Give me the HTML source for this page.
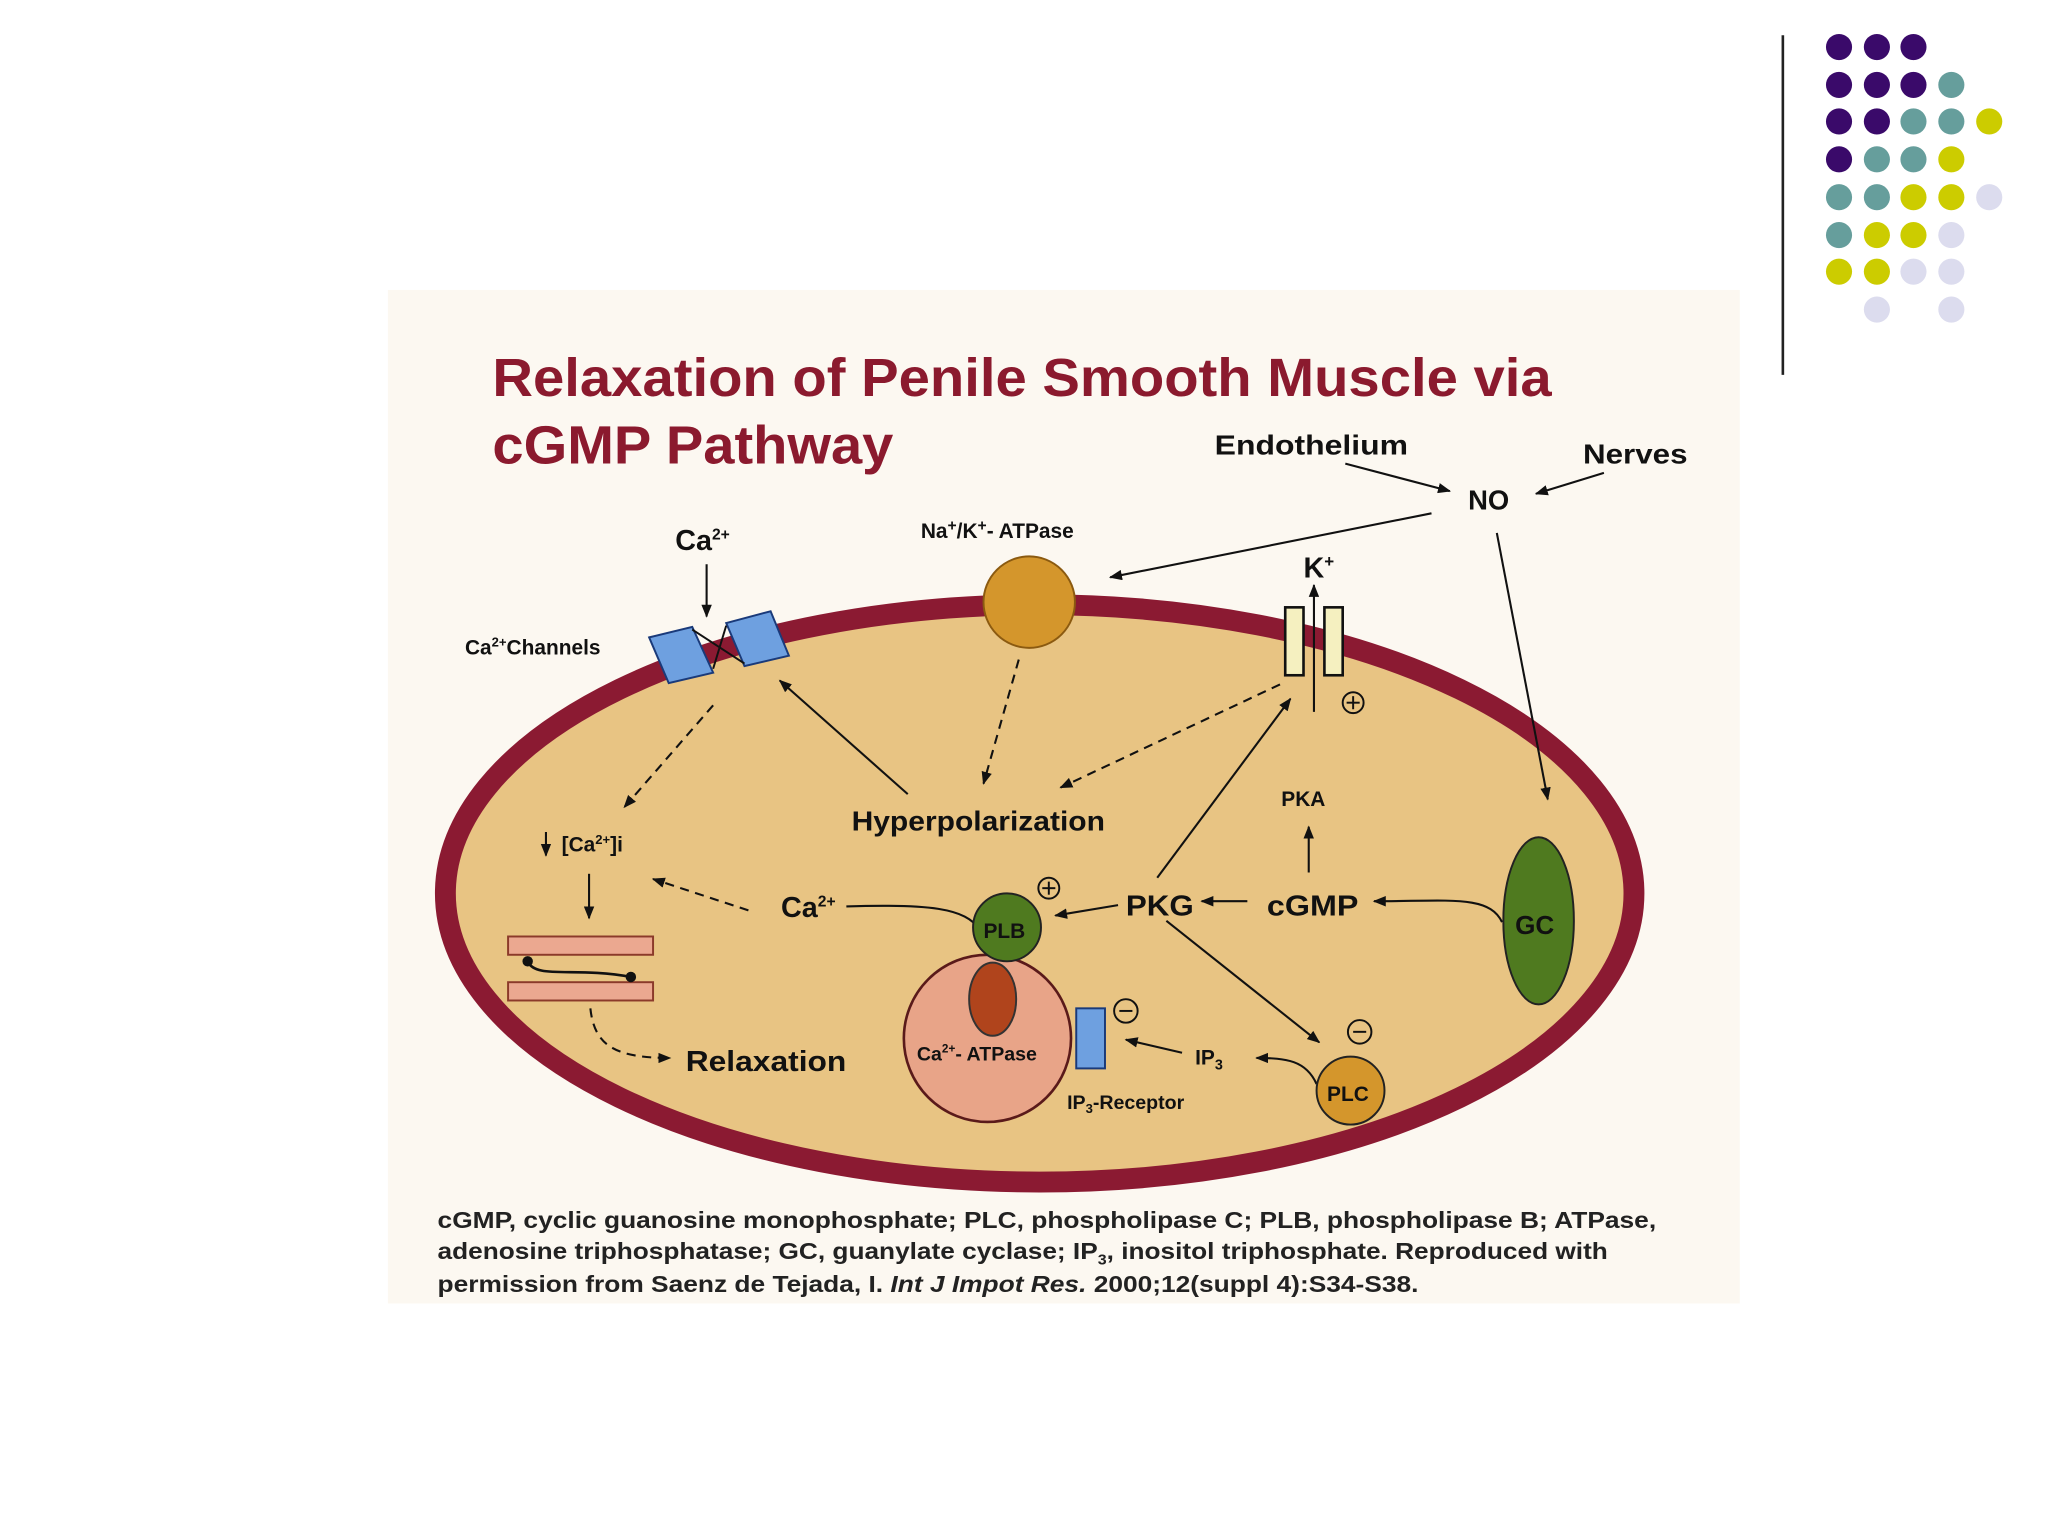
<!DOCTYPE html>
<html><head><meta charset="utf-8"><style>
html,body{margin:0;padding:0;background:#fff;}
svg{display:block;}
text{font-family:"Liberation Sans",Arial,sans-serif;}
</style></head><body>
<svg width="2048" height="1536" viewBox="0 0 1568 1176" xmlns="http://www.w3.org/2000/svg">
<defs>
<marker id="a" markerWidth="10" markerHeight="8" refX="9" refY="4" orient="auto" markerUnits="userSpaceOnUse"><path d="M0,0 L10,4 L0,8 z" fill="#111"/></marker>
</defs>
<rect width="1568" height="1176" fill="#fff"/>
<line x1="1365" y1="27" x2="1365" y2="287" stroke="#222" stroke-width="2"/>
<g>
<circle cx="1408" cy="36" r="10" fill="#3a0a6a"/><circle cx="1437" cy="36" r="10" fill="#3a0a6a"/><circle cx="1465" cy="36" r="10" fill="#3a0a6a"/>
<circle cx="1408" cy="65" r="10" fill="#3a0a6a"/><circle cx="1437" cy="65" r="10" fill="#3a0a6a"/><circle cx="1465" cy="65" r="10" fill="#3a0a6a"/><circle cx="1494" cy="65" r="10" fill="#669e9c"/>
<circle cx="1408" cy="93" r="10" fill="#3a0a6a"/><circle cx="1437" cy="93" r="10" fill="#3a0a6a"/><circle cx="1465" cy="93" r="10" fill="#669e9c"/><circle cx="1494" cy="93" r="10" fill="#669e9c"/><circle cx="1523" cy="93" r="10" fill="#cccc00"/>
<circle cx="1408" cy="122" r="10" fill="#3a0a6a"/><circle cx="1437" cy="122" r="10" fill="#669e9c"/><circle cx="1465" cy="122" r="10" fill="#669e9c"/><circle cx="1494" cy="122" r="10" fill="#cccc00"/>
<circle cx="1408" cy="151" r="10" fill="#669e9c"/><circle cx="1437" cy="151" r="10" fill="#669e9c"/><circle cx="1465" cy="151" r="10" fill="#cccc00"/><circle cx="1494" cy="151" r="10" fill="#cccc00"/><circle cx="1523" cy="151" r="10" fill="#dcdcee"/>
<circle cx="1408" cy="180" r="10" fill="#669e9c"/><circle cx="1437" cy="180" r="10" fill="#cccc00"/><circle cx="1465" cy="180" r="10" fill="#cccc00"/><circle cx="1494" cy="180" r="10" fill="#dcdcee"/>
<circle cx="1408" cy="208" r="10" fill="#cccc00"/><circle cx="1437" cy="208" r="10" fill="#cccc00"/><circle cx="1465" cy="208" r="10" fill="#dcdcee"/><circle cx="1494" cy="208" r="10" fill="#dcdcee"/>
<circle cx="1437" cy="237" r="10" fill="#dcdcee"/><circle cx="1494" cy="237" r="10" fill="#dcdcee"/>
</g>
<rect x="297" y="222" width="1035" height="776" fill="#fcf8f1"/>
<text x="377" y="303" font-size="41" font-weight="bold" fill="#8b1a2e" textLength="811" lengthAdjust="spacingAndGlyphs">Relaxation of Penile Smooth Muscle via</text>
<text x="377" y="355" font-size="41" font-weight="bold" fill="#8b1a2e" textLength="307" lengthAdjust="spacingAndGlyphs">cGMP Pathway</text>
<ellipse cx="796" cy="684" rx="455" ry="221" fill="#e8c483" stroke="#8b1a32" stroke-width="16"/>
<g font-weight="bold" fill="#111">
<text x="930" y="348" font-size="21" textLength="148" lengthAdjust="spacingAndGlyphs">Endothelium</text>
<text x="1212" y="355" font-size="21" textLength="80" lengthAdjust="spacingAndGlyphs">Nerves</text>
<text x="1124" y="390" font-size="21">NO</text>
<text x="705" y="412" font-size="16">Na<tspan dy="-6" font-size="12">+</tspan><tspan dy="6">/K</tspan><tspan dy="-6" font-size="12">+</tspan><tspan dy="6">- ATPase</tspan></text>
<text x="517" y="421" font-size="22">Ca<tspan dy="-8" font-size="12">2+</tspan></text>
<text x="356" y="501" font-size="16">Ca<tspan dy="-6" font-size="10">2+</tspan><tspan dy="6">Channels</tspan></text>
<text x="998" y="442" font-size="22">K<tspan dy="-8" font-size="13">+</tspan></text>
<text x="652" y="636" font-size="21" textLength="194" lengthAdjust="spacingAndGlyphs">Hyperpolarization</text>
<text x="981" y="617" font-size="16">PKA</text>
<text x="970" y="701" font-size="22" textLength="70" lengthAdjust="spacingAndGlyphs">cGMP</text>
<text x="862" y="701" font-size="22" textLength="52" lengthAdjust="spacingAndGlyphs">PKG</text>
<text x="598" y="702" font-size="22">Ca<tspan dy="-8" font-size="12">2+</tspan></text>
<text x="430" y="652" font-size="16">[Ca<tspan dy="-6" font-size="10">2+</tspan><tspan dy="6">]i</tspan></text>
<text x="525" y="820" font-size="22" textLength="123" lengthAdjust="spacingAndGlyphs">Relaxation</text>
<text x="915" y="815" font-size="16">IP<tspan dy="4" font-size="11">3</tspan></text>
<text x="817" y="849" font-size="15">IP<tspan dy="3" font-size="10">3</tspan><tspan dy="-3">-Receptor</tspan></text>
</g>
<g stroke="#111" stroke-width="1.6" fill="none" marker-end="url(#a)">
<line x1="1030" y1="355" x2="1110" y2="376"/>
<line x1="1228" y1="362" x2="1176" y2="378"/>
<line x1="1096" y1="393" x2="850" y2="442"/>
<line x1="1146" y1="408" x2="1185" y2="612"/>
<line x1="541" y1="432" x2="541" y2="472"/>
<line x1="1006" y1="545" x2="1006" y2="448"/>
<line x1="695" y1="608" x2="597" y2="521"/>
<line x1="886" y1="672" x2="988" y2="535"/>
<line x1="1002" y1="668" x2="1002" y2="633"/>
<line x1="955" y1="690" x2="920" y2="690"/>
<line x1="856" y1="693" x2="808" y2="701"/>
<line x1="893" y1="705" x2="1010" y2="798"/>
<line x1="905" y1="806" x2="862" y2="796"/>
<path d="M1150,706 C1140,685 1110,690 1052,690"/>
<path d="M1008,830 C1000,812 985,810 962,810"/>
<line x1="451" y1="669" x2="451" y2="703"/>
<line x1="418" y1="637" x2="418" y2="655"/>
</g>
<g stroke="#111" stroke-width="1.6" fill="none" stroke-dasharray="7,5" marker-end="url(#a)">
<line x1="780" y1="505" x2="753" y2="600"/>
<line x1="980" y1="524" x2="812" y2="603"/>
<line x1="546" y1="540" x2="478" y2="618"/>
<line x1="573" y1="697" x2="500" y2="673"/>
<path d="M452,772 C455,800 470,810 513,810"/>
</g>
<path d="M648,694 C710,692 740,695 750,712" stroke="#111" stroke-width="1.6" fill="none"/>
<circle cx="788" cy="461" r="35" fill="#d4962c" stroke="#8b5a10" stroke-width="1.5"/>
<polygon points="497,488 530,480 546,515 512,523" fill="#6ea0e0" stroke="#1a3a7a" stroke-width="1.5"/>
<polygon points="556,477 590,468 604,502 570,510" fill="#6ea0e0" stroke="#1a3a7a" stroke-width="1.5"/>
<line x1="530" y1="482" x2="570" y2="508" stroke="#111" stroke-width="1.5"/>
<line x1="546" y1="512" x2="556" y2="479" stroke="#111" stroke-width="1.5"/>
<rect x="984" y="465" width="14" height="52" fill="#f5f0c0" stroke="#111" stroke-width="2"/>
<rect x="1014" y="465" width="14" height="52" fill="#f5f0c0" stroke="#111" stroke-width="2"/>
<ellipse cx="1178" cy="705" rx="27" ry="64" fill="#4f7a1f" stroke="#222" stroke-width="1.5"/>
<text x="1160" y="715" font-size="20" font-weight="bold" fill="#111">GC</text>
<circle cx="756" cy="795" r="64" fill="#e8a488" stroke="#5a1a1a" stroke-width="2"/>
<ellipse cx="760" cy="765" rx="18" ry="28" fill="#b0441c" stroke="#333" stroke-width="1.5"/>
<circle cx="771" cy="710" r="26" fill="#4f7a1f" stroke="#222" stroke-width="1.5"/>
<text x="753" y="718" font-size="16" font-weight="bold" fill="#111">PLB</text>
<text x="702" y="812" font-size="15" font-weight="bold" fill="#111">Ca<tspan dy="-6" font-size="9">2+</tspan><tspan dy="6">- ATPase</tspan></text>
<rect x="824" y="772" width="22" height="46" fill="#6ea0e0" stroke="#1a3a7a" stroke-width="1.5"/>
<circle cx="1034" cy="835" r="26" fill="#d4962c" stroke="#222" stroke-width="1.5"/>
<text x="1016" y="843" font-size="16" font-weight="bold" fill="#111">PLC</text>
<g stroke="#111" stroke-width="1.5" fill="none">
<circle cx="1036" cy="538" r="8"/><line x1="1031" y1="538" x2="1041" y2="538"/><line x1="1036" y1="533" x2="1036" y2="543"/>
<circle cx="803" cy="680" r="8"/><line x1="798" y1="680" x2="808" y2="680"/><line x1="803" y1="675" x2="803" y2="685"/>
<circle cx="862" cy="774" r="9"/><line x1="857" y1="774" x2="867" y2="774"/>
<circle cx="1041" cy="790" r="9"/><line x1="1036" y1="790" x2="1046" y2="790"/>
</g>
<rect x="389" y="717" width="111" height="14" fill="#eba890" stroke="#8b3a2a" stroke-width="1.5"/>
<rect x="389" y="752" width="111" height="14" fill="#eba890" stroke="#8b3a2a" stroke-width="1.5"/>
<path d="M404,736 C410,750 440,740 483,748" stroke="#111" stroke-width="2" fill="none"/>
<circle cx="404" cy="736" r="4" fill="#111"/><circle cx="483" cy="748" r="4" fill="#111"/>
<g font-size="18" font-weight="bold" fill="#222">
<text x="335" y="940" textLength="933" lengthAdjust="spacingAndGlyphs">cGMP, cyclic guanosine monophosphate; PLC, phospholipase C; PLB, phospholipase B; ATPase,</text>
<text x="335" y="964" textLength="896" lengthAdjust="spacingAndGlyphs">adenosine triphosphatase; GC, guanylate cyclase; IP<tspan dy="4" font-size="11">3</tspan><tspan dy="-4">, inositol triphosphate. Reproduced with</tspan></text>
<text x="335" y="989" textLength="751" lengthAdjust="spacingAndGlyphs">permission from Saenz de Tejada, I. <tspan font-style="italic">Int J Impot Res.</tspan> 2000;12(suppl 4):S34-S38.</text>
</g>
</svg>
</body></html>
